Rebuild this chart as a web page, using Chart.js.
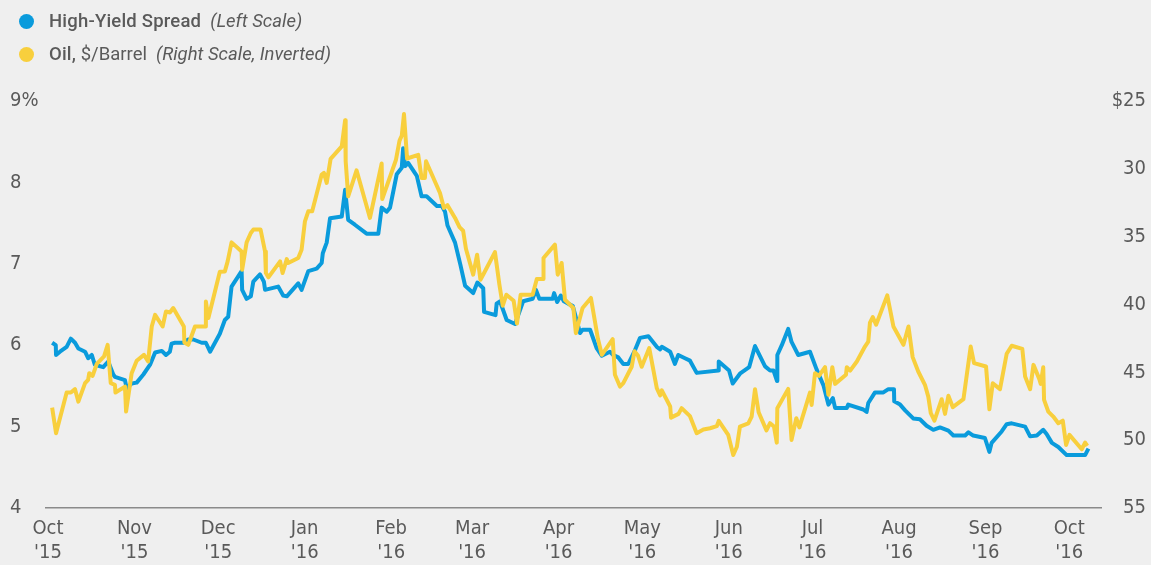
<!DOCTYPE html>
<html>
<head>
<meta charset="utf-8">
<script src="https://cdn.jsdelivr.net/npm/chart.js@4.4.0/dist/chart.umd.min.js"></script>
<style>
  body { margin: 0; background: #efefef; }
  #wrap { position: relative; width: 1151px; height: 565px; }
  #legend { position: absolute; left: 0; top: 0; font-family: Roboto, sans-serif; color: #5a5a5a; font-size: 18.5px; }
  .item { position: absolute; left: 19px; white-space: nowrap; height: 22px; line-height: 22px; }
  .dot { display: inline-block; width: 15px; height: 15px; border-radius: 50%; vertical-align: -2px; margin-right: 15px; }
  .strong { font-weight: 500; letter-spacing: 0.2px; }
  .note { font-style: italic; margin-left: 9px; }
</style>
</head>
<body>
<div id="wrap">
  <canvas id="chart" width="1151" height="565"></canvas>
  <div id="legend">
    <div class="item" style="top:10px"><span class="dot" style="background:#0a9bdc"></span><span class="strong">High-Yield Spread</span><span class="note">(Left Scale)</span></div>
    <div class="item" style="top:43px"><span class="dot" style="background:#f8cf3d"></span><span class="strong">Oil,</span> $/Barrel<span class="note">(Right Scale, Inverted)</span></div>
  </div>
</div>
<script>
// x = days since Oct 1 2015
const monthStarts = [0, 31, 61, 92, 123, 152, 183, 213, 244, 274, 305, 336, 366];
const monthNames = ['Oct', 'Nov', 'Dec', 'Jan', 'Feb', 'Mar', 'Apr', 'May', 'Jun', 'Jul', 'Aug', 'Sep', 'Oct'];
const yearNames = ["'15", "'15", "'15", "'16", "'16", "'16", "'16", "'16", "'16", "'16", "'16", "'16", "'16"];

// [day, spread %]
const spread = [
  [1.5,6.03],[2.8,6.00],[2.9,5.88],[4.3,5.92],[6.7,5.98],[8.2,6.08],[9.7,6.03],[10.9,5.96],[13.3,5.92],[14.4,5.84],
  [15.7,5.88],[16.8,5.76],[19.8,5.73],[21.6,5.80],[23.4,5.64],[24.0,5.61],[27.6,5.57],[28.2,5.47],[30.0,5.53],[31.8,5.54],
  [34.2,5.64],[36.6,5.76],[38.4,5.91],[40.8,5.93],[42.3,5.88],[43.7,5.92],[44.3,6.02],[45.5,6.03],[48.5,6.03],[50.3,6.07],
  [52.1,6.07],[55.1,6.03],[56.6,6.03],[58.1,5.92],[61.6,6.14],[63.4,6.31],[64.6,6.35],[65.8,6.72],[69.4,6.91],[69.6,6.68],
  [71.2,6.57],[72.7,6.60],[73.6,6.78],[76.0,6.87],[77.4,6.78],[77.8,6.68],[82.5,6.72],[84.3,6.61],[85.6,6.60],[89.7,6.76],
  [90.9,6.68],[93.3,6.91],[96.3,6.94],[98.1,7.01],[98.5,7.13],[99.9,7.26],[101.1,7.56],[105.3,7.58],[106.5,7.91],[107.6,7.54],
  [110.0,7.48],[114.2,7.37],[118.4,7.37],[119.6,7.69],[121.4,7.64],[122.6,7.69],[125.0,8.10],[126.8,8.18],[127.3,8.42],[128.0,8.20],
  [129.1,8.24],[132.2,8.08],[133.9,7.83],[135.7,7.83],[139.4,7.71],[141.2,7.71],[142.3,7.64],[143.2,7.47],[145.9,7.26],[147.8,6.99],
  [149.5,6.73],[152.4,6.64],[153.9,6.77],[156.0,6.70],[156.3,6.41],[160.4,6.37],[160.8,6.51],[162.0,6.54],[164.4,6.31],[167.4,6.26],
  [170.3,6.54],[173.7,6.57],[174.9,6.68],[176.1,6.57],[180.9,6.57],[181.4,6.64],[182.5,6.53],[183.8,6.61],[184.9,6.54],[188.1,6.48],
  [190.7,6.15],[191.6,6.19],[194.3,6.19],[196.7,5.96],[198.5,5.87],[201.4,5.92],[202.6,5.88],[204.4,5.85],[206.2,5.77],[208.0,5.77],
  [210.4,5.94],[212.2,6.09],[215.2,6.11],[218.2,5.98],[219.4,5.95],[220.0,5.98],[223.0,5.92],[224.7,5.77],[225.9,5.88],[228.3,5.84],
  [230.1,5.81],[232.5,5.66],[240.3,5.69],[240.4,5.80],[244.1,5.69],[245.4,5.53],[248.0,5.65],[251.3,5.73],[253.4,5.99],[257.0,5.74],
  [258.8,5.69],[260.0,5.69],[261.3,5.56],[261.4,5.88],[263.0,6.00],[265.3,6.20],[266.5,6.04],[268.9,5.88],[273.1,5.92],[275.5,5.70],
  [277.9,5.51],[279.7,5.27],[281.3,5.35],[282.1,5.23],[286.3,5.23],[286.8,5.27],[292.2,5.21],[293.4,5.18],[294.0,5.29],[296.4,5.42],
  [299.4,5.42],[301.2,5.46],[303.2,5.46],[303.3,5.31],[305.4,5.27],[307.2,5.20],[310.1,5.10],[312.5,5.09],[314.9,5.01],[317.3,4.96],
  [319.7,4.99],[322.7,4.95],[324.5,4.89],[328.7,4.89],[329.9,4.93],[331.6,4.89],[335.8,4.86],[337.4,4.69],[338.2,4.80],[341.8,4.94],
  [343.6,5.03],[345.4,5.04],[350.2,5.00],[352.0,4.88],[354.4,4.89],[356.7,4.96],[357.9,4.91],[359.8,4.80],[362.1,4.75],[365.1,4.65],
  [371.7,4.65],[372.9,4.73]
];

// [day, oil $/barrel]
const oil = [
  [1.5,47.60],[2.9,49.49],[6.7,46.49],[8.2,46.49],[9.7,46.24],[10.9,47.16],[13.3,45.80],[14.4,45.55],[14.8,45.06],[16.0,45.26],
  [17.5,44.37],[20.1,43.83],[21.4,42.97],[22.5,45.80],[24.0,45.92],[24.2,46.49],[27.6,46.05],[28.0,47.89],[30.0,45.06],[31.8,44.15],
  [34.4,43.71],[35.9,44.20],[37.2,41.62],[38.4,40.76],[41.1,41.62],[42.3,40.51],[43.7,40.59],[44.9,40.26],[48.7,41.62],[48.9,42.80],
  [50.3,42.97],[52.7,41.62],[56.3,41.62],[56.6,39.78],[57.5,41.00],[61.6,37.58],[63.4,37.56],[64.4,36.82],[65.8,35.42],[69.4,36.09],
  [69.6,37.44],[71.2,35.42],[72.7,34.73],[73.6,34.48],[76.2,34.48],[77.8,36.09],[78.1,37.68],[79.0,38.00],[83.2,36.82],[84.1,37.68],
  [85.6,36.65],[86.1,36.94],[89.7,36.57],[90.9,35.96],[92.1,33.87],[93.3,33.13],[94.7,33.13],[98.1,30.42],[98.9,30.30],[99.9,31.04],
  [101.3,29.27],[105.3,28.34],[106.5,26.42],[106.7,29.44],[107.6,32.03],[110.6,30.11],[115.4,33.62],[119.6,29.61],[119.8,32.23],[124.7,29.35],
  [126.0,27.92],[126.8,27.55],[127.6,25.96],[128.7,29.24],[132.7,28.97],[133.9,30.67],[135.1,30.67],[135.5,29.44],[140.5,31.78],[141.9,32.88],
  [143.2,32.68],[145.9,33.62],[147.5,34.30],[148.8,34.56],[149.8,35.89],[152.4,37.80],[153.8,36.33],[155.0,38.17],[156.3,37.68],[160.2,36.14],
  [161.8,38.54],[163.0,40.09],[164.3,39.28],[166.9,39.72],[168.1,41.40],[169.4,39.28],[173.7,39.28],[175.2,38.12],[177.5,38.12],[177.6,36.57],
  [181.7,35.59],[182.7,37.80],[184.1,36.94],[185.3,39.65],[188.3,40.26],[189.2,42.11],[191.6,40.26],[194.6,39.52],[197.1,42.53],[198.5,43.71],
  [202.4,42.55],[203.2,45.18],[205.0,46.05],[206.2,45.80],[209.2,44.59],[210.2,43.45],[211.5,43.78],[212.8,44.59],[215.5,43.21],[218.2,46.17],
  [219.4,46.70],[220.0,46.33],[223.0,47.52],[223.3,48.34],[226.0,48.06],[227.1,47.64],[230.1,48.23],[232.5,49.49],[234.9,49.22],[237.3,49.12],
  [239.7,48.97],[240.4,48.58],[243.8,49.61],[245.6,51.09],[246.9,50.48],[248.0,49.00],[251.0,48.76],[252.2,48.26],[253.4,46.24],[254.7,47.94],
  [257.5,49.28],[258.8,48.75],[260.2,49.00],[261.2,50.18],[261.4,47.64],[265.3,46.22],[266.5,49.98],[268.2,48.38],[269.3,49.06],[273.1,46.49],
  [273.7,47.40],[274.9,45.06],[276.3,45.26],[278.5,44.62],[279.7,46.66],[281.1,44.62],[282.1,45.85],[286.0,45.18],[286.3,44.62],[287.5,44.87],
  [289.9,44.20],[292.8,43.10],[294.0,42.73],[294.6,41.33],[295.6,40.93],[296.8,41.49],[300.8,39.33],[303.0,41.62],[306.6,42.97],[308.4,41.62],
  [309.9,43.88],[311.9,44.94],[314.3,45.92],[315.5,46.79],[316.4,48.01],[317.7,48.56],[320.3,46.98],[321.5,48.06],[322.7,46.73],[324.3,47.57],
  [328.1,46.98],[330.7,43.10],[331.9,44.32],[336.2,44.57],[337.4,47.72],[338.6,45.80],[341.2,46.24],[343.6,43.63],[345.4,43.04],[349.2,43.27],
  [350.2,45.31],[352.0,46.24],[353.2,44.45],[355.3,45.50],[355.8,45.85],[356.7,44.62],[357.0,47.03],[358.5,47.89],[360.3,48.26],[362.1,48.75],
  [363.7,48.56],[364.9,50.35],[366.1,49.61],[370.5,50.67],[371.7,50.18],[372.5,50.42]
];

const tickFont = { family: "'Liberation Sans Narrow', 'Arial Narrow', 'DejaVu Sans Condensed', Roboto, sans-serif", size: 20 };
const textColor = '#5a5a5a';

const ctx = document.getElementById('chart').getContext('2d');
new Chart(ctx, {
  type: 'line',
  data: {
    datasets: [
      {
        label: 'Oil, $/Barrel',
        data: oil.map(p => ({ x: p[0], y: p[1] })),
        yAxisID: 'yRight',
        borderColor: '#f8cf3d',
        borderWidth: 4,
        pointRadius: 0,
        tension: 0,
        borderJoinStyle: 'round',
        order: 0
      },
      {
        label: 'High-Yield Spread',
        data: spread.map(p => ({ x: p[0], y: p[1] })),
        yAxisID: 'yLeft',
        borderColor: '#0a9bdc',
        borderWidth: 4,
        pointRadius: 0,
        tension: 0,
        borderJoinStyle: 'round',
        order: 1
      }
    ]
  },
  options: {
    responsive: false,
    animation: false,
    layout: { padding: { top: 101, left: 10, right: 5, bottom: 0 } },
    plugins: { legend: { display: false }, tooltip: { enabled: false } },
    scales: {
      x: {
        type: 'linear',
        min: -0.7,
        max: 377.4,
        afterBuildTicks: axis => { axis.ticks = monthStarts.map(v => ({ value: v })); },
        afterFit: axis => { axis.height = 57; },
        grid: { display: false, drawTicks: false },
        border: { display: true, color: '#8a8a8a', width: 1.5 },
        ticks: {
          color: textColor,
          font: tickFont,
          padding: 9,
          maxRotation: 0,
          autoSkip: false,
          callback: (v) => {
            const i = monthStarts.indexOf(v);
            return i < 0 ? '' : [monthNames[i], yearNames[i]];
          }
        }
      },
      yLeft: {
        position: 'left',
        min: 4,
        max: 9,
        afterFit: axis => { axis.width = 36; },
        grid: { display: false, drawTicks: false },
        border: { display: false },
        ticks: {
          stepSize: 1,
          color: textColor,
          font: tickFont,
          crossAlign: 'far',
          callback: v => v === 9 ? '9%' : v
        }
      },
      yRight: {
        position: 'right',
        min: 25,
        max: 55,
        reverse: true,
        afterFit: axis => { axis.width = 45; },
        grid: { display: false, drawTicks: false },
        border: { display: false },
        ticks: {
          stepSize: 5,
          color: textColor,
          font: tickFont,
          crossAlign: 'far',
          callback: v => v === 25 ? '$25' : v
        }
      }
    }
  }
});
</script>
</body>
</html>
